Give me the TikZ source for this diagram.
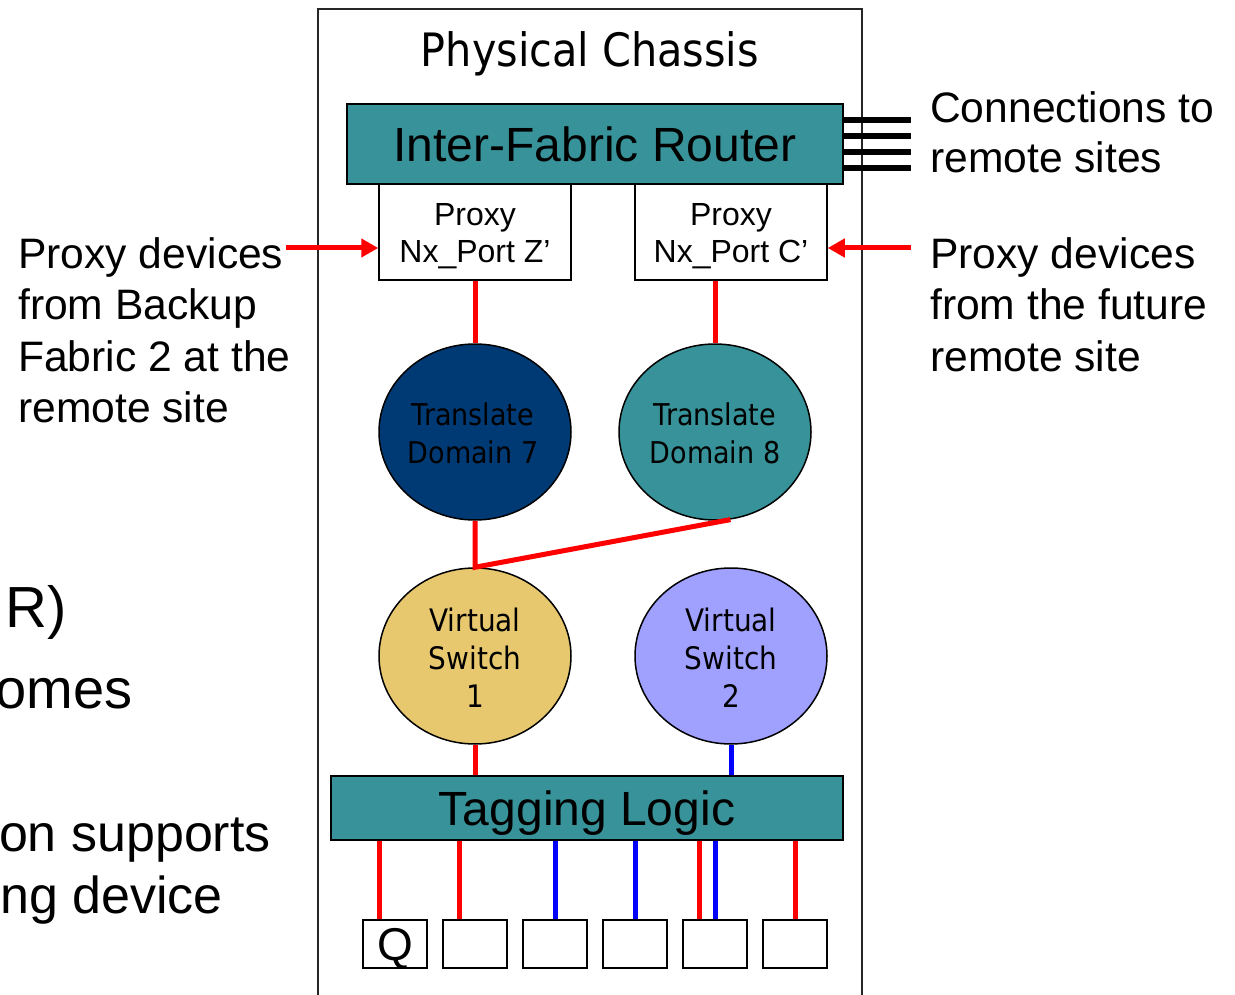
\documentclass[tikz,border=0pt]{standalone}
\usepackage{fontspec}
\setmainfont{Liberation Sans}
\newfontfamily\tahfont{DejaVu Sans Condensed}
\usetikzlibrary{arrows.meta,shapes.geometric,calc}

\definecolor{fabteal}{RGB}{55,147,153}
\definecolor{navyseven}{RGB}{0,58,117}
\definecolor{vsyellow}{RGB}{232,200,110}
\definecolor{vslavender}{RGB}{160,160,255}
\definecolor{linkred}{RGB}{255,0,0}
\definecolor{linkblue}{RGB}{0,0,255}

\newcommand\fsz[2]{\fontsize{#1}{#2}\selectfont}

\begin{document}
\begin{tikzpicture}[x=1pt,y=-1pt,
  bar/.style={draw=black,line width=1.5pt,fill=fabteal,inner sep=0},
  proxybox/.style={draw=black,line width=1.5pt,fill=white,minimum width=192pt,
    minimum height=96pt,inner sep=0},
  proxytext/.style={align=center,inner sep=0,font=\fsz{32}{37.5}},
  oval/.style={ellipse,draw=black,line width=1.5pt,minimum width=192pt,
    minimum height=176pt,inner sep=0},
  ovaltext/.style={align=center,inner sep=0,font=\tahfont\fsz{30}{38}},
  port/.style={draw=black,line width=2pt,fill=white,minimum width=64pt,
    minimum height=48pt,inner sep=0},
  redlink/.style={draw=linkred,line width=5pt},
  bluelink/.style={draw=linkblue,line width=5pt},
  wire/.style={draw=black,line width=6.5pt},
  note/.style={align=left,inner sep=0,font=\fsz{42.6}{51.5}},
  cut/.style={anchor=base east,inner sep=0},
  arrowtip/.style={-{Triangle[length=17pt,width=18pt]}},
]
\useasboundingbox (0,0) rectangle (1235,995);

% chassis outline, open at the bottom
\draw[line width=1.5pt,draw=black!85] (318,995) -- (318,9) -- (862,9) -- (862,995);
\node[font=\tahfont\fsz{46}{50},anchor=base,inner sep=0] (title) at (590,67) {Physical Chassis};

% inter-fabric router with its remote links
\node[bar,minimum width=496pt,minimum height=80pt,font=\fsz{48}{56}] (ifr) at (595,144) {Inter-Fabric Router};
\foreach \i/\y in {1/120,2/136,3/152,4/168} {
  \coordinate (c\i) at (911,\y);
  \draw[wire] (ifr.east |- c\i) -- (c\i);
}
\node[note,font=\fsz{42.6}{50},anchor=north west] (conn) at (930,91) {Connections to\\remote sites};

% proxy ports
\node[proxybox] (pz) at (475,232) {};
\node[proxytext] (pzt) at (475,236) {Proxy\\Nx\_Port Z’};
\node[proxybox] (pc) at (731,232) {};
\node[proxytext] (pct) at (731,236) {Proxy\\Nx\_Port C’};

\node[note,anchor=north west] (lnote) at (18,237) {Proxy devices\\from Backup\\Fabric 2 at the\\remote site};
\node[note,anchor=north west] (rnote) at (930,237) {Proxy devices\\from the future\\remote site};
\coordinate (la) at (286,248);
\coordinate (ra) at (911,248);
\draw[redlink,arrowtip] (la) -- (la -| pz.west);
\draw[redlink,arrowtip] (ra) -- (ra -| pc.east);

% translate domains
\node[oval,fill=navyseven] (td7) at (475,432) {};
\node[ovaltext] (td7t) at ([xshift=-2pt,yshift=-1pt]td7.center) {Translate\\Domain 7};
\node[oval,fill=fabteal] (td8) at (715,432) {};
\node[ovaltext] (td8t) at ([yshift=-1pt]td8.center) {Translate\\Domain 8};

% virtual switches
\node[oval,fill=vsyellow] (vs1) at (475,656) {};
\node[ovaltext,font=\tahfont\fsz{31}{38}] (vs1t) at ([yshift=-2pt]vs1.center) {Virtual\\Switch\\1};
\node[oval,fill=vslavender] (vs2) at (731,656) {};
\node[ovaltext,font=\tahfont\fsz{31}{38}] (vs2t) at ([yshift=-2pt]vs2.center) {Virtual\\Switch\\2};

\draw[redlink] (pz.south) -- (td7.north);
\draw[redlink] (td8.north |- pc.south) -- (td8.north);
\draw[redlink] (td7.south) -- (vs1.north) -- (td8.-80);

% tagging logic
\node[bar,minimum width=512pt,minimum height=64pt] (tag) at (587,808) {};
\node[font=\fsz{48}{50},anchor=base,inner sep=0] (tagt) at (587,825) {Tagging Logic};
\draw[redlink] (vs1.south) -- (vs1.south |- tag.north);
\draw[bluelink] (vs2.south) -- (vs2.south |- tag.north);

% front ports
\foreach \i in {1,...,6} {
  \node[port] (b\i) at ({395+80*(\i-1)},944) {};
}
\node[inner sep=0,font=\fsz{46}{48},anchor=base] (q) at (395,960) {Q};

\coordinate (p1) at ([xshift=-16pt]b1.north);
\coordinate (p2) at ([xshift=-16pt]b2.north);
\coordinate (p3) at (b3.north);
\coordinate (p4) at (b4.north);
\coordinate (p5) at ([xshift=-16pt]b5.north);
\coordinate (p6) at (b5.north);
\coordinate (p7) at (b6.north);
\foreach \p/\s in {p1/redlink,p2/redlink,p3/bluelink,p4/bluelink,p5/redlink,p6/bluelink,p7/redlink} {
  \draw[\s] (\p) -- (\p |- tag.south);
}

% text running in from the left
\node[cut,font=\fsz{58}{64}] (s1) at (67,627) {R)};
\node[cut,font=\fsz{56}{60}] (s2) at (133,708) {omes};
\node[cut,font=\fsz{52}{60}] (s3) at (271,851) {on supports};
\node[cut,font=\fsz{52}{60}] (s4) at (223,913) {ng device};
\end{tikzpicture}
\end{document}
